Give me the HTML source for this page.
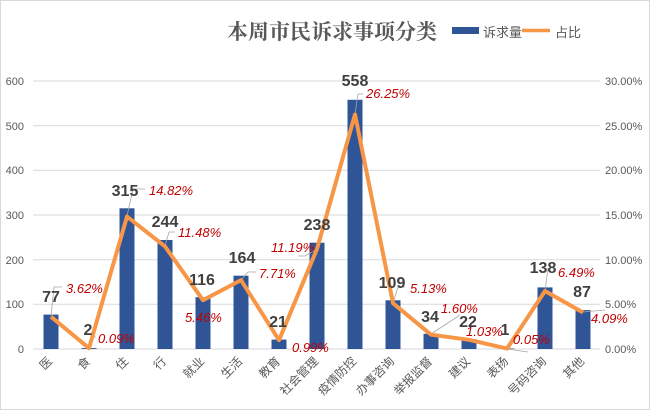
<!DOCTYPE html>
<html><head><meta charset="utf-8"><style>
html,body{margin:0;padding:0;background:#fff;}
svg{display:block;}
text{font-family:"Liberation Sans","Noto Sans CJK SC",sans-serif;}
</style></head><body>
<svg width="650" height="410" viewBox="0 0 650 410" xmlns="http://www.w3.org/2000/svg">
<rect x="0.5" y="0.5" width="649" height="409" fill="#fff" stroke="#d9d9d9"/>
<text x="332" y="39" text-anchor="middle" font-size="21" fill="#595959" font-weight="bold" style="font-family:'Liberation Serif','Noto Serif CJK SC',serif">本周市民诉求事项分类</text>
<rect x="452" y="27" width="27" height="7" fill="#2f5597"/>
<text x="483" y="37" font-size="13" fill="#595959">诉求量</text>
<line x1="522" y1="30.5" x2="550" y2="30.5" stroke="#f79646" stroke-width="3.5"/>
<text x="555" y="37" font-size="13" fill="#595959">占比</text>
<g stroke="#d9d9d9" stroke-width="1">
<line x1="33" y1="81" x2="600" y2="81"/><line x1="33" y1="125.7" x2="600" y2="125.7"/>
<line x1="33" y1="170.3" x2="600" y2="170.3"/><line x1="33" y1="215" x2="600" y2="215"/>
<line x1="33" y1="259.7" x2="600" y2="259.7"/><line x1="33" y1="304.3" x2="600" y2="304.3"/>
<line x1="33" y1="349" x2="600" y2="349"/>
</g>
<g font-size="11" fill="#595959" text-anchor="end">
<text x="24" y="85">600</text><text x="24" y="130">500</text><text x="24" y="174">400</text>
<text x="24" y="219">300</text><text x="24" y="264">200</text><text x="24" y="308">100</text><text x="24" y="353">0</text>
</g>
<g font-size="11" fill="#595959">
<text x="605" y="85">30.00%</text><text x="605" y="130">25.00%</text><text x="605" y="174">20.00%</text>
<text x="605" y="219">15.00%</text><text x="605" y="264">10.00%</text><text x="605" y="308">5.00%</text><text x="605" y="353">0.00%</text>
</g>
<g fill="#2f5597">
<rect x="43.5" y="314.6" width="15" height="34.4"/>
<rect x="81.5" y="348.1" width="15" height="0.9"/>
<rect x="119.5" y="208.3" width="15" height="140.7"/>
<rect x="157.5" y="240" width="15" height="109"/>
<rect x="195.5" y="297.2" width="15" height="51.8"/>
<rect x="233.5" y="275.7" width="15" height="73.3"/>
<rect x="271.5" y="339.6" width="15" height="9.4"/>
<rect x="309.5" y="242.7" width="15" height="106.3"/>
<rect x="347.5" y="99.8" width="15" height="249.2"/>
<rect x="385.5" y="300.3" width="15" height="48.7"/>
<rect x="423.5" y="333.8" width="15" height="15.2"/>
<rect x="461.5" y="339.2" width="15" height="9.8"/>
<rect x="499.5" y="348.5" width="15" height="0.5"/>
<rect x="537.5" y="287.4" width="15" height="61.6"/>
<rect x="575.5" y="310.1" width="15" height="38.9"/>
</g>
<g stroke="#a6a6a6" stroke-width="0.8" fill="none">
<polyline points="51,316 54,287 62,287"/>
<polyline points="89,348 92,337 96,337"/>
<polyline points="127,216 133,189 145,189"/>
<polyline points="165,246 169,232 175,232"/>
<polyline points="241,280 248,272 256,272"/>
<polyline points="317,249 305,256 298,256"/>
<polyline points="355,114 358,94 363,94"/>
<polyline points="393,303 398,287 405,287"/>
<polyline points="431,334 460,315"/>
<polyline points="507,349 528,352"/>
<polyline points="545,291 548,268"/>
<polyline points="583,312 605,310"/>
</g>
<polyline fill="none" stroke="#f79646" stroke-width="4" stroke-linejoin="round" points="51,316.7 89,348.2 127,216.6 165,246.4 203,300.2 241,280.1 279,340.2 317,249 355,114.5 393,303.2 431,334.7 469,339.8 507,348.6 545,291 583,312.5"/>
<g font-size="16" font-weight="bold" fill="#404040" text-anchor="middle">
<text x="51" y="302">77</text><text x="88" y="335">2</text><text x="125" y="196">315</text>
<text x="165" y="227">244</text><text x="202" y="285">116</text><text x="242" y="263">164</text>
<text x="278" y="327">21</text><text x="317" y="230">238</text><text x="355" y="86">558</text>
<text x="392" y="288">109</text><text x="430" y="322">34</text><text x="468" y="327">22</text>
<text x="505" y="335">1</text><text x="543" y="273">138</text><text x="582" y="297">87</text>
</g>
<g font-size="13" font-style="italic" fill="#c00000">
<text x="66" y="293">3.62%</text><text x="98" y="343">0.09%</text><text x="149" y="195">14.82%</text>
<text x="178" y="237">11.48%</text><text x="185" y="322">5.46%</text><text x="259" y="278">7.71%</text>
<text x="292" y="352">0.99%</text><text x="271" y="252">11.19%</text><text x="366" y="98">26.25%</text>
<text x="410" y="293">5.13%</text><text x="441" y="313">1.60%</text><text x="466" y="336">1.03%</text>
<text x="513" y="344">0.05%</text><text x="558" y="277">6.49%</text><text x="591" y="323">4.09%</text>
</g>
<g font-size="12" fill="#595959" text-anchor="end">
<text transform="translate(53,362) rotate(-45)">医</text>
<text transform="translate(91,362) rotate(-45)">食</text>
<text transform="translate(129,362) rotate(-45)">住</text>
<text transform="translate(167,362) rotate(-45)">行</text>
<text transform="translate(205,362) rotate(-45)">就业</text>
<text transform="translate(243,362) rotate(-45)">生活</text>
<text transform="translate(281,362) rotate(-45)">教育</text>
<text transform="translate(319,362) rotate(-45)">社会管理</text>
<text transform="translate(357,362) rotate(-45)">疫情防控</text>
<text transform="translate(395,362) rotate(-45)">办事咨询</text>
<text transform="translate(433,362) rotate(-45)">举报监督</text>
<text transform="translate(471,362) rotate(-45)">建议</text>
<text transform="translate(509,362) rotate(-45)">表扬</text>
<text transform="translate(547,362) rotate(-45)">号码咨询</text>
<text transform="translate(585,362) rotate(-45)">其他</text>
</g>
</svg>
</body></html>
